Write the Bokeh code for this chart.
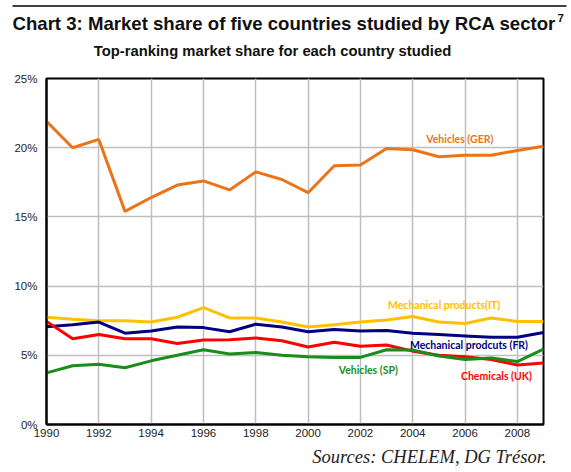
from bokeh.plotting import figure
from bokeh.layouts import column
from bokeh.models import Label, FixedTicker, PrintfTickFormatter, Range1d
from bokeh.core.properties import value
from bokeh.embed import file_html
from bokeh.resources import INLINE

years = list(range(1990, 2010))
vehicles_ger = [21.9, 20.0, 20.6, 15.4, 16.4, 17.3, 17.6, 16.95, 18.25, 17.7,
                16.75, 18.7, 18.75, 19.95, 19.85, 19.35, 19.45, 19.45, 19.8, 20.1]
mech_it = [7.75, 7.6, 7.5, 7.5, 7.4, 7.75, 8.45, 7.7, 7.7, 7.4,
           7.05, 7.2, 7.4, 7.55, 7.8, 7.4, 7.3, 7.7, 7.45, 7.45]
mech_fr = [7.07, 7.2, 7.4, 6.6, 6.75, 7.05, 7.0, 6.7, 7.25, 7.05,
           6.7, 6.87, 6.75, 6.8, 6.6, 6.5, 6.4, 6.3, 6.3, 6.65]
chem_uk = [7.45, 6.2, 6.5, 6.2, 6.2, 5.85, 6.1, 6.12, 6.25, 6.05,
           5.6, 5.95, 5.65, 5.75, 5.3, 5.0, 4.9, 4.7, 4.3, 4.45]
vehicles_sp = [3.73, 4.25, 4.35, 4.1, 4.6, 5.0, 5.4, 5.1, 5.2, 5.0,
               4.9, 4.85, 4.85, 5.4, 5.38, 4.95, 4.7, 4.8, 4.55, 5.45]

x_ticks = list(range(1990, 2009, 2))
y_ticks = [0, 5, 10, 15, 20, 25]

series_names = ["Vehicles (GER)", "Mechanical products(IT)", "Mechanical prodcuts (FR)",
                "Chemicals (UK)", "Vehicles (SP)"]
series_values = [vehicles_ger, mech_it, mech_fr, chem_uk, vehicles_sp]
colors = ["#EC7418", "#FFC000", "#000080", "#FF0000", "#1A8C1A"]
label_pos = [(2005.8, 20.6), (2005.2, 8.67), (2006.15, 5.71), (2007.2, 3.47), (2002.3, 3.97)]

title_text = "Chart 3: Market share of five countries studied by RCA sector"
footnote_mark = "7"
subtitle_text = "Top-ranking market share for each country studied"
source_text = "Sources: CHELEM, DG Trésor."

W = 570

# ---- header strip (title, footnote mark, subtitle, rule)
top = figure(width=W, height=62, output_backend="svg", toolbar_location=None,
             x_range=Range1d(0, W), y_range=Range1d(62, 0),
             x_axis_type=None, y_axis_type=None, min_border=0, frame_align=False)
top.outline_line_color = None
top.segment(x0=[12], y0=[5.5], x1=[566], y1=[5.5], line_color="black", line_width=1.5)
top.text(x=[12], y=[23], text=[title_text], text_font=value("Liberation Sans"),
         text_font_style="bold", text_font_size="18.6px", text_color="#111111",
         text_baseline="alphabetic", text_align="left")
top.text(x=[557], y=[17], text=[footnote_mark], text_font=value("Liberation Sans"),
         text_font_style="bold", text_font_size="11.5px", text_color="#111111",
         text_baseline="alphabetic", text_align="left")
top.text(x=[272], y=[50], text=[subtitle_text], text_font=value("Liberation Sans"),
         text_font_style="bold", text_font_size="14.8px", text_color="#111111",
         text_baseline="alphabetic", text_align="center")

# ---- main chart
p = figure(width=W, height=379, output_backend="svg", toolbar_location=None,
           min_border_left=46, min_border_right=W - 543, min_border_top=16, min_border_bottom=17,
           x_range=Range1d(1990, 2009), y_range=Range1d(0, 25), frame_align=False)
p.outline_line_color = "black"
p.outline_line_width = 2

for ax in (p.xaxis[0], p.yaxis[0]):
    ax.axis_line_color = "black"
    ax.axis_line_width = 2
    ax.major_tick_line_color = None
    ax.minor_tick_line_color = None
    ax.major_tick_out = 0
    ax.major_tick_in = 0
    ax.major_label_text_font = "Liberation Sans"
    ax.major_label_text_font_size = "11.5px"
    ax.major_label_text_color = "#222222"

p.xaxis.ticker = FixedTicker(ticks=x_ticks)
p.yaxis.ticker = FixedTicker(ticks=y_ticks)
p.yaxis.formatter = PrintfTickFormatter(format="%d%%")
p.xaxis.major_label_standoff = 4
p.yaxis.major_label_standoff = 9

p.xgrid.ticker = FixedTicker(ticks=x_ticks)
p.ygrid.ticker = FixedTicker(ticks=y_ticks)
for g in (p.xgrid[0], p.ygrid[0]):
    g.grid_line_color = "#BFBFBF"
    g.grid_line_width = 1.5

for vals, col in zip(series_values, colors):
    p.line(years, vals, line_color=col, line_width=3)

for name, col, (lx, ly) in zip(series_names, colors, label_pos):
    p.add_layout(Label(x=lx, y=ly, text=name, text_color=col, text_font="Lato",
                       text_font_style="bold", text_font_size="10.5px",
                       text_align="center", text_baseline="middle"))

# ---- source strip
bot = figure(width=W, height=30, output_backend="svg", toolbar_location=None,
             x_range=Range1d(0, W), y_range=Range1d(30, 0),
             x_axis_type=None, y_axis_type=None, min_border=0, frame_align=False)
bot.outline_line_color = None
bot.text(x=[546], y=[15], text=[source_text], text_font=value("Liberation Serif"),
         text_font_style="italic", text_font_size="18.5px", text_color="#222222",
         text_baseline="alphabetic", text_align="right")

layout = column(top, p, bot, spacing=0)
open("out.html", "w").write(file_html(layout, INLINE))
